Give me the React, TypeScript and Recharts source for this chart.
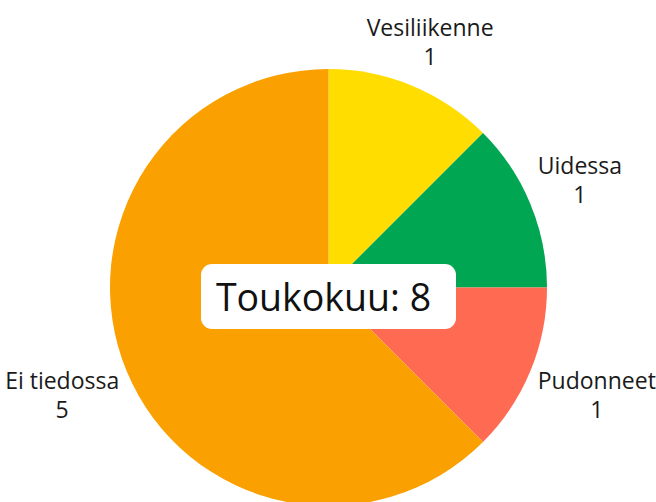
import { PieChart, Pie, Cell } from 'recharts';

const categories = ['Vesiliikenne', 'Uidessa', 'Pudonneet', 'Ei tiedossa'];
const counts = [1, 1, 1, 5];
const colors = ['#FFDD00', '#00A651', '#FF6A52', '#FAA000'];
const monthLabel = 'Toukokuu';

const RAD = Math.PI / 180;
const LABEL_FONT = "23px 'Open Sans', sans-serif";

function textWidth(str: string): number {
  const ctx = document.createElement('canvas').getContext('2d');
  if (!ctx) return str.length * 11;
  ctx.font = LABEL_FONT;
  return ctx.measureText(str).width;
}

interface LabelProps {
  cx: number;
  cy: number;
  midAngle: number;
  outerRadius: number;
  name: string;
  value: number;
}

function SliceLabel({ cx, cy, midAngle, outerRadius, name, value }: LabelProps) {
  const c = Math.cos(-midAngle * RAD);
  const s = Math.sin(-midAngle * RAD);
  let x: number;
  let y: number;
  if (Math.abs(c) > 0.7) {
    // side labels: block edge next to the pie, centred text
    const half = Math.max(textWidth(name), textWidth(String(value))) / 2;
    const edge = cx + (outerRadius + 8) * c;
    x = c > 0 ? edge + half : edge - half;
    y = cy + (outerRadius + 63) * s;
  } else {
    x = cx + (outerRadius + 47) * c;
    y = cy + (outerRadius + 47) * s;
  }
  return (
    <text
      x={x}
      y={y}
      textAnchor="middle"
      fill="#1a1a1a"
      fontSize={23}
      fontFamily="'Open Sans', sans-serif"
    >
      <tspan x={x} dy={-6}>{name}</tspan>
      <tspan x={x} dy={29}>{value}</tspan>
    </text>
  );
}

export default function App() {
  const data = categories.map((name, i) => ({ name, value: counts[i] }));
  const total = counts.reduce((a, b) => a + b, 0);

  return (
    <div style={{ position: 'absolute', left: 0, top: 0, width: 656, height: 502, background: '#fff', overflow: 'hidden' }}>
      <PieChart width={656} height={502} margin={{ top: 0, right: 0, bottom: 0, left: 0 }}>
        <Pie
          data={data}
          dataKey="value"
          nameKey="name"
          cx={328.5}
          cy={287.5}
          outerRadius={218.5}
          startAngle={90}
          endAngle={-270}
          stroke="none"
          labelLine={false}
          label={SliceLabel}
          isAnimationActive={false}
        >
          {data.map((d, i) => (
            <Cell key={d.name} fill={colors[i]} />
          ))}
        </Pie>
      </PieChart>
      <div
        style={{
          position: 'absolute',
          left: 201,
          top: 264,
          width: 255,
          height: 65,
          borderRadius: 11,
          background: '#fff',
          display: 'flex',
          alignItems: 'center',
          justifyContent: 'center',
          boxSizing: 'border-box',
          paddingRight: 10,
          fontFamily: "'Open Sans', sans-serif",
          fontSize: 37.5,
          color: '#111',
        }}
      >
        {monthLabel}: {total}
      </div>
    </div>
  );
}
